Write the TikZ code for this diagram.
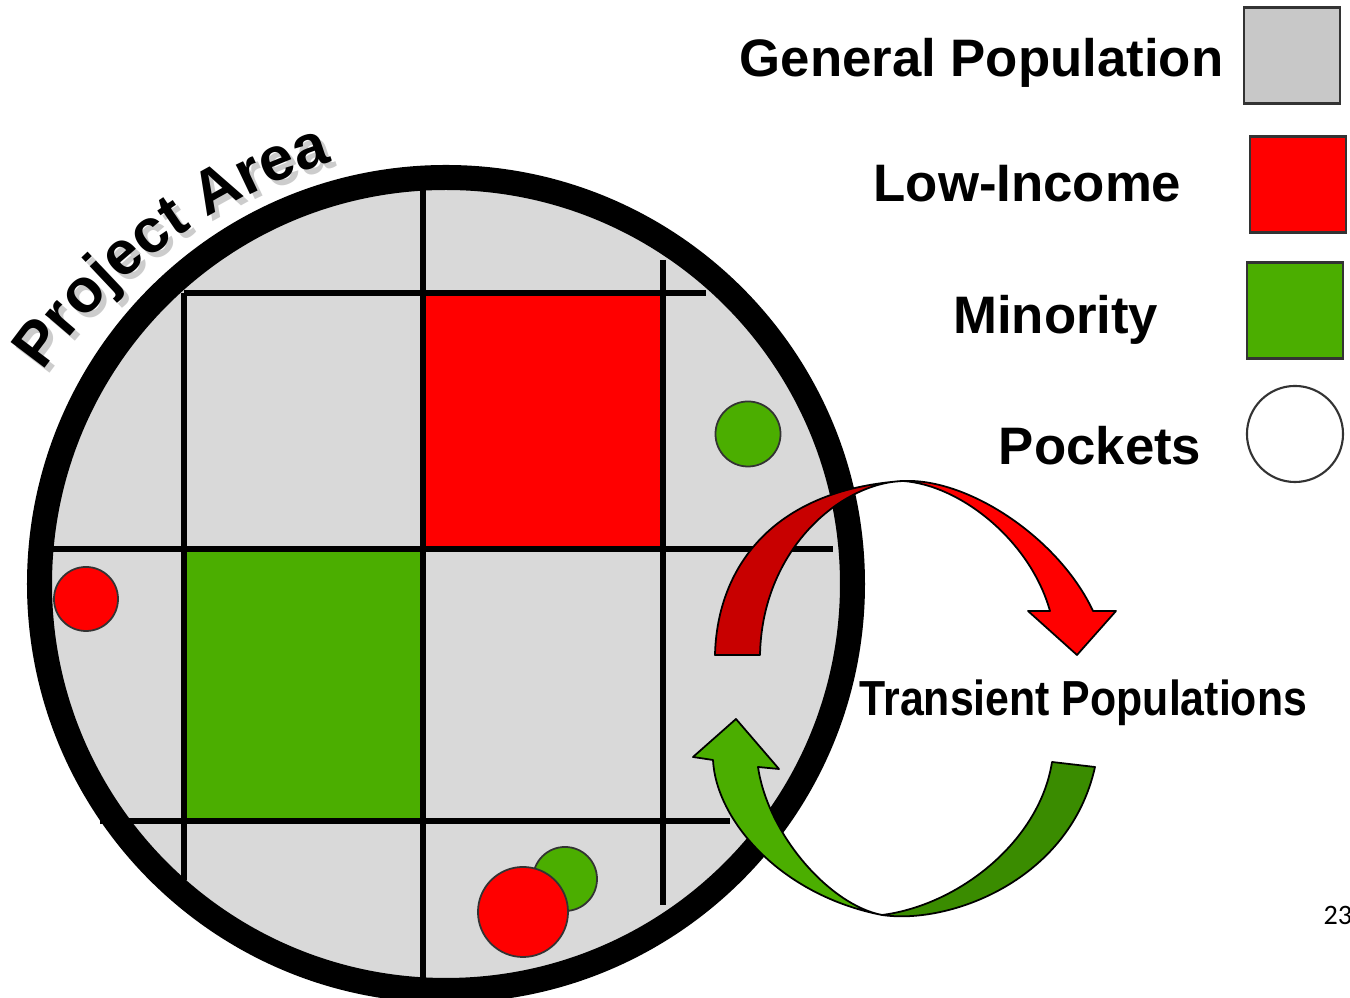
\documentclass[tikz,border=0pt]{standalone}
\usepackage{fontspec}
\setmainfont{Liberation Sans}
\newfontfamily\slidefont{Carlito}
\usetikzlibrary{decorations.text}
\definecolor{areagray}{HTML}{D9D9D9}
\definecolor{gengray}{HTML}{C8C8C8}
\definecolor{lowred}{HTML}{FF0000}
\definecolor{darkred}{HTML}{C80000}
\definecolor{mingreen}{HTML}{4BAE00}
\definecolor{darkgreen}{HTML}{3A8C00}
\newcommand{\labelfont}{\fontsize{15}{18}\selectfont\bfseries}
\newcommand{\areafont}{\fontsize{17.6}{20}\selectfont\bfseries}

\begin{document}
\begin{tikzpicture}[x=0.01cm,y=-0.01cm,
	gridline/.style={line width=1.7pt},
	pocket/.style={circle,draw=black!80,line width=0.5pt,inner sep=0pt},
	legbox/.style={draw=black!80,line width=0.6pt,minimum size=0.96cm,inner sep=0pt},
	leglabel/.style={font=\labelfont,anchor=base east,inner sep=0pt},
	band/.style={draw=black,line width=0.5pt,line join=round}]
\useasboundingbox (0,0) rectangle (1350,998);
%========================================
% Project area with its blocks
%========================================
\fill[areagray] (446,584) circle (406);
\fill[lowred] (424,293) rectangle (663,549);
\fill[mingreen] (184,549) rectangle (423,820);
% Streets
\draw[gridline] (184,293) -- (706,293);
\draw[gridline] (53,549) -- (833,549);
\draw[gridline] (100,821) -- (730,821);
\draw[gridline] (184,293) -- (184,880);
\draw[gridline] (423,190) -- (423,998);
\draw[gridline] (663,260) -- (663,905);
% Pockets
\node[pocket,fill=mingreen,minimum size=0.65cm] (pocketne) at (748,434) {};
\node[pocket,fill=lowred,minimum size=0.64cm] (pocketw) at (86,599) {};
\node[pocket,fill=mingreen,minimum size=0.64cm] (pocketsg) at (565,879) {};
\node[pocket,fill=lowred,minimum size=0.9cm] (pocketsr) at (523,912) {};
% Boundary
\draw[line width=0.25cm] (446,584) circle (406.5);
% Title along the boundary (with its shadow)
\foreach \dx/\col in {5/gray!40,0/black}
	\path[decorate,shift={(\dx,\dx)},decoration={text along path,text align=center,
		text color=\col,text format delimiters={|}{|},
		text={|\areafont|Project Area}}]
		(17.4,412) arc[start angle=-150,end angle=-102,radius=548];
%========================================
% Legend
%========================================
\node[legbox,fill=gengray] (genbox) at (1292,55.5) {};
\node[legbox,fill=lowred] (lowbox) at (1298,184.5) {};
\node[legbox,fill=mingreen] (minbox) at (1295,310.5) {};
\node[legbox,circle,fill=white] (pocketbox) at (1295,434) {};
\node[leglabel] (genlabel) at (1224,77) {General Population};
\node[leglabel] (lowlabel) at (1182,202) {Low-Income};
\node[leglabel] (minlabel) at (1159,334) {Minority};
\node[leglabel] (pocketlabel) at (1202,465) {Pockets};
%========================================
% Transient populations: in and out
%========================================
% Red arrow, leaving
\filldraw[band,fill=darkred] (715,655) .. controls (717,570) and (770,490) .. (903,481)
	.. controls (840,483) and (762,550) .. (760,655) -- cycle;
\filldraw[band,fill=lowred] (903,481) .. controls (970,478) and (1060,540) .. (1093,611)
	-- (1116,611) -- (1077,655) -- (1028,611) -- (1050,611)
	.. controls (1030,540) and (960,485) .. (903,481) -- cycle;
% Green arrow, coming in
\filldraw[band,fill=mingreen] (713,760) -- (693,757) -- (736,719) -- (779,769) -- (758,767)
	.. controls (768,835) and (830,905) .. (882,915)
	.. controls (780,895) and (716,820) .. (713,760) -- cycle;
\filldraw[band,fill=darkgreen] (882,915) .. controls (950,925) and (1070,880) .. (1095,767)
	-- (1052,762) .. controls (1040,840) and (960,905) .. (882,915) -- cycle;
\node[anchor=base west,inner sep=0pt,font=\fontsize{14}{17}\selectfont\bfseries] (transient) at (859,716)
	{\scalebox{0.87}[1]{Transient Populations}};
% Slide number
\node[anchor=base west,inner sep=0pt,font=\slidefont\fontsize{8}{10}\selectfont] (pagenum) at (1323,925) {23};
\end{tikzpicture}
\end{document}
